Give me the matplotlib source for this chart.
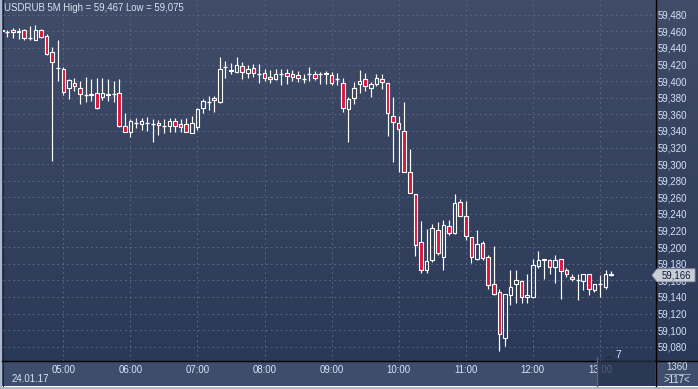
import matplotlib
matplotlib.use('Agg')
import matplotlib.pyplot as plt
import numpy as np
import pandas as pd
from matplotlib import transforms
from matplotlib.patches import Polygon, Rectangle
from matplotlib.lines import Line2D

# ---------------- data ----------------
symbol_title = 'USDRUB 5M High = 59,467 Low = 59,075'
date_label = '24.01.17'
start_time = '2017-01-24 04:05'
last_price = 59166
price_ticks = list(range(59080, 59481, 20))
bar_count_label = '7'
corner_top = '1360'
corner_bottom = '>117<'

opens = [59460, 59459, 59461, 59459, 59461, 59452, 59450, 59461, 59454, 59435,
         59416, 59415, 59392, 59398, 59392, 59383, 59385, 59386, 59381, 59385,
         59385, 59386, 59346, 59339, 59350, 59348, 59350, 59348, 59350, 59346,
         59346, 59352, 59348, 59348, 59338, 59345, 59368, 59375, 59380, 59375,
         59417, 59412, 59411, 59418, 59410, 59416, 59408, 59410, 59405, 59403,
         59408, 59410, 59408, 59407, 59403, 59409, 59408, 59408, 59408, 59407,
         59402, 59398, 59366, 59380, 59396, 59402, 59392, 59396, 59402, 59398,
         59358, 59349, 59340, 59291, 59264, 59206, 59172, 59184, 59221, 59188,
         59226, 59217, 59254, 59238, 59212, 59186, 59205, 59188, 59155, 59146,
         59091, 59142, 59155, 59159, 59140, 59140, 59177, 59186, 59185, 59176,
         59186, 59173, 59164, 59160, 59159, 59167, 59148, 59155, 59152, 59168]
highs = [59462, 59462, 59464, 59464, 59463, 59466, 59467, 59463, 59457, 59441,
         59450, 59417, 59402, 59404, 59400, 59405, 59402, 59404, 59404, 59402,
         59400, 59403, 59361, 59354, 59355, 59355, 59357, 59354, 59353, 59354,
         59355, 59355, 59354, 59355, 59358, 59367, 59379, 59382, 59382, 59429,
         59424, 59422, 59429, 59423, 59420, 59421, 59421, 59415, 59413, 59414,
         59414, 59415, 59413, 59412, 59409, 59417, 59412, 59411, 59412, 59411,
         59410, 59404, 59381, 59399, 59413, 59410, 59399, 59409, 59409, 59398,
         59381, 59358, 59375, 59318, 59264, 59231, 59222, 59228, 59230, 59233,
         59233, 59264, 59258, 59256, 59212, 59221, 59207, 59191, 59201, 59150,
         59143, 59172, 59172, 59160, 59167, 59186, 59195, 59186, 59186, 59190,
         59186, 59175, 59167, 59167, 59167, 59167, 59155, 59166, 59173, 59171]
lows = [59459, 59453, 59452, 59451, 59449, 59450, 59449, 59452, 59432, 59304,
        59400, 59383, 59379, 59388, 59373, 59375, 59376, 59366, 59377, 59376,
        59375, 59345, 59339, 59333, 59343, 59341, 59340, 59327, 59335, 59337,
        59339, 59339, 59339, 59339, 59338, 59341, 59361, 59365, 59363, 59374,
        59404, 59408, 59410, 59402, 59404, 59405, 59398, 59400, 59398, 59401,
        59395, 59397, 59400, 59399, 59398, 59400, 59401, 59397, 59397, 59395,
        59395, 59363, 59327, 59372, 59386, 59388, 59381, 59394, 59390, 59334,
        59302, 59291, 59291, 59265, 59189, 59169, 59169, 59182, 59191, 59172,
        59215, 59216, 59237, 59208, 59181, 59184, 59185, 59150, 59142, 59075,
        59081, 59130, 59133, 59133, 59133, 59139, 59175, 59161, 59167, 59157,
        59138, 59164, 59159, 59136, 59148, 59142, 59146, 59140, 59150, 59165]
closes = [59461, 59459, 59459, 59460, 59452, 59452, 59462, 59453, 59433, 59423,
          59416, 59387, 59401, 59394, 59385, 59383, 59383, 59368, 59386, 59383,
          59385, 59346, 59339, 59352, 59350, 59352, 59350, 59348, 59347, 59346,
          59352, 59346, 59345, 59339, 59350, 59366, 59376, 59375, 59377, 59415,
          59417, 59413, 59420, 59411, 59415, 59410, 59408, 59404, 59402, 59409,
          59408, 59406, 59405, 59404, 59403, 59409, 59404, 59408, 59410, 59398,
          59402, 59368, 59378, 59392, 59400, 59394, 59396, 59404, 59399, 59361,
          59351, 59342, 59291, 59265, 59203, 59172, 59183, 59223, 59193, 59227,
          59217, 59253, 59238, 59213, 59188, 59204, 59187, 59154, 59144, 59095,
          59143, 59152, 59160, 59140, 59142, 59178, 59185, 59185, 59176, 59185,
          59171, 59168, 59161, 59160, 59167, 59150, 59155, 59155, 59167, 59166]

# ---------------- figure ----------------
W, H, DPI = 698, 389, 100
FONT = 'Liberation Sans'
TXT = '#d6e3f7'
FS = 6.9

def fx(px):
    return px / W

def fy(py):
    return 1 - py / H

fig = plt.figure(figsize=(W / DPI, H / DPI), dpi=DPI)

# background axes (whole figure, pixel coordinates)
bg = fig.add_axes([0, 0, 1, 1])
bg.set_xlim(0, W)
bg.set_ylim(H, 0)
bg.axis('off')
top_c = np.array([0x40, 0x4c, 0x68]) / 255
bot_c = np.array([0x2b, 0x39, 0x58]) / 255
t = np.linspace(0, 1, 256)[:, None]
grad = top_c[None, :] * (1 - t) + bot_c[None, :] * t
grad = np.repeat(grad[:, None, :], 2, axis=1)
bg.imshow(grad, extent=[0, W, 361, 0], aspect='auto', interpolation='bilinear', zorder=0)
bg.add_patch(Rectangle((0, 361), W, 25, facecolor='#3e4d6b', edgecolor='none', zorder=1))
# outer light frame
bg.add_patch(Rectangle((0, 0), 2, H, facecolor='#aeb8ca', edgecolor='none', zorder=3))
bg.add_patch(Rectangle((0, 386.5), W, 2.5, facecolor='#aeb8ca', edgecolor='none', zorder=3))
bg.plot([2.5, 2.5], [0, 386], color='#1c2436', lw=0.8, zorder=3)

# main chart axes
ax = fig.add_axes([fx(3), fy(361), fx(655 - 3), 361 / H])
ax.set_facecolor('none')
for s in ax.spines.values():
    s.set_visible(False)

n = len(opens)
times = pd.date_range(start_time, periods=n, freq='5min')
x = np.arange(n)
o = np.array(opens, float)
h = np.array(highs, float)
l = np.array(lows, float)
c = np.array(closes, float)

step = 5.59            # pixels per candle
x0 = 1.8               # pixel of first candle
ax.set_xlim((3 - x0) / step, (655 - x0) / step)
ax.set_ylim(59480 - (361 - 14.7) / 0.83, 59480 + 14.7 / 0.83)

hour_pos = [i for i, tm in enumerate(times) if tm.minute == 0]
hour_lab = [times[i].strftime('%H:%M') for i in hour_pos]
ax.set_xticks(hour_pos)
ax.set_xticklabels(hour_lab)
ax.set_yticks(price_ticks)
ax.set_yticklabels([f'{v:,}' for v in price_ticks])
ax.yaxis.tick_right()
ax.tick_params(axis='y', length=0, pad=2.2, labelsize=FS, labelcolor=TXT)
ax.tick_params(axis='x', length=0, pad=3.0, labelsize=FS, labelcolor=TXT)
for lab in ax.get_xticklabels() + ax.get_yticklabels():
    lab.set_fontfamily(FONT)
ax.grid(True, color='#56647f', linestyle=(0, (2, 3)), linewidth=0.7, zorder=0)
ax.set_axisbelow(True)

body_lo = np.minimum(o, c)
body_hi = np.maximum(o, c)
ax.vlines(x, body_hi, h, color='white', lw=0.85, zorder=2)
ax.vlines(x, l, body_lo, color='white', lw=0.85, zorder=2)
up = c > o
dn = c < o
dj = c == o
ax.bar(x[up], (c - o)[up], bottom=o[up], width=0.64, facecolor='none',
       edgecolor='white', linewidth=0.8, zorder=3)
ax.bar(x[dn], (o - c)[dn], bottom=c[dn], width=0.64, facecolor='#dc143c',
       edgecolor='white', linewidth=0.8, zorder=3)
ax.hlines(o[dj], x[dj] - 0.35, x[dj] + 0.35, color='white', lw=0.95, zorder=3)

# separator lines
fig.add_artist(Line2D([fx(655.5), fx(655.5)], [fy(0), fy(386)], color='black', lw=1.0,
                      transform=fig.transFigure, zorder=4))
fig.add_artist(Line2D([fx(2), fx(W)], [fy(361), fy(361)], color='black', lw=1.0,
                      transform=fig.transFigure, zorder=4))

# dark scroll box in time strip
fig.add_artist(Rectangle((fx(597), fy(386)), fx(655 - 597), 25 / H, facecolor='#25314d',
                         alpha=0.75, edgecolor='none', transform=fig.transFigure, zorder=5))
fig.add_artist(Line2D([fx(597), fx(597)], [fy(357), fy(386)], color='#5a6275', lw=1.0,
                      transform=fig.transFigure, zorder=5))
fig.add_artist(Polygon([[fx(605), fy(359)], [fx(609), fy(355)], [fx(613), fy(359)]],
                       closed=True, facecolor='#2a3040', edgecolor='none',
                       transform=fig.transFigure, zorder=5))
fig.text(fx(618), fy(355), bar_count_label, color=TXT, fontsize=7.4, family=FONT,
         ha='center', va='center', zorder=6)

# corner box texts
fig.text(fx(677), fy(367.5), corner_top, color=TXT, fontsize=FS, family=FONT,
         ha='center', va='center')
fig.add_artist(Line2D([fx(665), fx(690)], [fy(374), fy(374)], color='#9aa6bc', lw=0.7,
                      transform=fig.transFigure))
fig.text(fx(677), fy(379.8), corner_bottom, color=TXT, fontsize=FS, family=FONT,
         ha='center', va='center')

# title and date
fig.text(fx(4), fy(8.3), symbol_title, color='#d8e3f5', fontsize=FS, family=FONT,
         ha='left', va='center', zorder=6)
fig.text(fx(12), fy(379.5), date_label, color=TXT, fontsize=FS, family=FONT,
         ha='left', va='center', zorder=6)

# last price marker
bt = transforms.blended_transform_factory(fig.transFigure, ax.transData)
dp = 6.5 / 0.83
fig.add_artist(Polygon([[fx(652), last_price], [fx(657), last_price + dp],
                        [fx(695), last_price + dp], [fx(695), last_price - dp],
                        [fx(657), last_price - dp]], closed=True,
                       facecolor='#c9ced8', edgecolor='#8a93a6', lw=0.6,
                       transform=bt, zorder=7))
fig.text(fx(676), 0, f'{last_price:,}', transform=bt, color='#0f1a30', fontsize=FS,
         family=FONT, ha='center', va='center', zorder=8).set_y(last_price)

fig.savefig('out.png', dpi=DPI)
